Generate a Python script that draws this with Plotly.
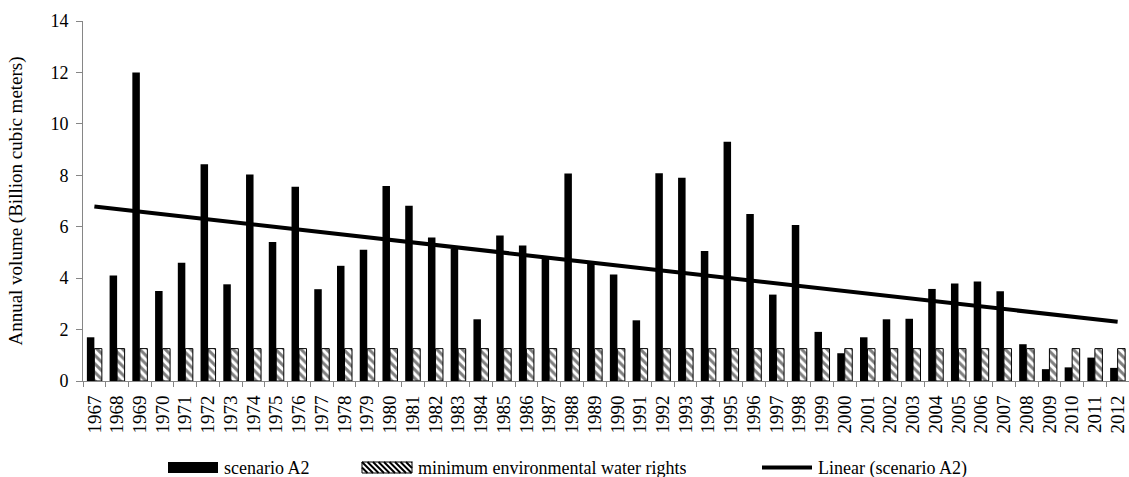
import numpy as np
import plotly.graph_objects as go

years = [str(y) for y in range(1967, 2013)]
scenario_a2 = [1.70, 4.10, 12.00, 3.50, 4.60, 8.43, 3.76, 8.03, 5.41, 7.55,
               3.57, 4.48, 5.10, 7.58, 6.82, 5.58, 5.15, 2.40, 5.66, 5.27,
               4.75, 8.07, 4.60, 4.14, 2.36, 8.08, 7.90, 5.06, 9.30, 6.49,
               3.36, 6.07, 1.91, 1.08, 1.70, 2.40, 2.42, 3.58, 3.79, 3.87,
               3.49, 1.43, 0.46, 0.53, 0.91, 0.51]
min_env_rights = [1.26] * len(years)
y_ticks = [0, 2, 4, 6, 8, 10, 12, 14]
legend_names = ["scenario A2", "minimum environmental water rights", "Linear (scenario A2)"]

idx = np.arange(len(years))
slope, intercept = np.polyfit(idx, scenario_a2, 1)
trend = list(slope * idx + intercept)

FONT = "Liberation Serif"
W, H = 1129, 477
ML, MR, MT, MB = 83, 0, 21, 96
PW, PH = W - ML - MR, H - MT - MB


def px(x):
    return (x - ML) / PW


def py(y):
    return (H - MB - y) / PH


fig = go.Figure()
fig.add_trace(go.Bar(x=years, y=scenario_a2, name=legend_names[0],
                     marker=dict(color="black", line=dict(width=0))))
fig.add_trace(go.Bar(x=years, y=min_env_rights, name=legend_names[1],
                     marker=dict(color="white", line=dict(color="black", width=1),
                                 pattern=dict(shape="\\", fgcolor="black", bgcolor="white",
                                              size=6, solidity=0.5, fillmode="overlay"))))
fig.add_trace(go.Scatter(x=years, y=trend, name=legend_names[2], mode="lines",
                         line=dict(color="black", width=4)))

# ---- custom legend (Excel-like wide symbols) ----
shapes = []
ly0, ly1 = 462, 473
lyc = (ly0 + ly1) / 2
# black box
shapes.append(dict(type="rect", xref="paper", yref="paper", x0=px(168), x1=px(218),
                   y0=py(ly1), y1=py(ly0), fillcolor="black", line=dict(width=0)))
# hatched box
hx0, hx1 = 362, 412
shapes.append(dict(type="rect", xref="paper", yref="paper", x0=px(hx0), x1=px(hx1),
                   y0=py(ly1), y1=py(ly0), fillcolor="white", line=dict(color="black", width=1)))
hgt = ly1 - ly0
s = hx0 - hgt
while s < hx1:
    xa, ya = s, ly0
    xb, yb = s + hgt, ly1
    if xa < hx0:
        ya = ly0 + (hx0 - xa)
        xa = hx0
    if xb > hx1:
        yb = ly1 - (xb - hx1)
        xb = hx1
    if xb > xa:
        shapes.append(dict(type="line", xref="paper", yref="paper", x0=px(xa), y0=py(ya),
                           x1=px(xb), y1=py(yb), line=dict(color="black", width=2)))
    s += 5.5
# trend line symbol
shapes.append(dict(type="line", xref="paper", yref="paper", x0=px(762), x1=px(812),
                   y0=py(lyc), y1=py(lyc), line=dict(color="black", width=4)))

annotations = []
for name, xt in zip(legend_names, [223, 417, 817]):
    annotations.append(dict(text=name, xref="paper", yref="paper", x=px(xt), y=py(lyc),
                            xanchor="left", yanchor="middle", showarrow=False,
                            height=20, borderpad=0,
                            font=dict(family=FONT, size=18, color="black")))

fig.update_layout(
    width=W, height=H,
    template="none",
    paper_bgcolor="white", plot_bgcolor="white",
    margin=dict(l=ML, r=MR, t=MT, b=MB, autoexpand=False),
    barmode="group", bargap=0.34, bargroupgap=0,
    font=dict(family=FONT, size=18, color="black"),
    showlegend=False,
    shapes=shapes,
    annotations=annotations,
    xaxis=dict(type="category", tickangle=-90, showgrid=False, zeroline=False,
               tickmode="array", tickvals=years, ticktext=years,
               showline=True, linecolor="#868686", linewidth=1,
               ticks="outside", ticklen=5, tickcolor="#868686", tickson="boundaries",
               ticklabelstandoff=6,
               tickfont=dict(family=FONT, size=19, color="black"), automargin=False),
    yaxis=dict(range=[0, 14], tickvals=y_ticks, showgrid=False, zeroline=False,
               showline=True, linecolor="#868686", linewidth=1,
               ticks="outside", ticklen=6, tickcolor="#868686",
               ticklabelstandoff=4,
               tickfont=dict(family=FONT, size=18, color="black"),
               title=dict(text="Annual volume (Billion cubic meters)",
                          font=dict(family=FONT, size=19, color="black"), standoff=22),
               automargin=False),
)

fig.write_html("out.html", config={"displayModeBar": False},
               post_script="document.body.style.margin='0px';document.body.style.overflow='hidden';")
